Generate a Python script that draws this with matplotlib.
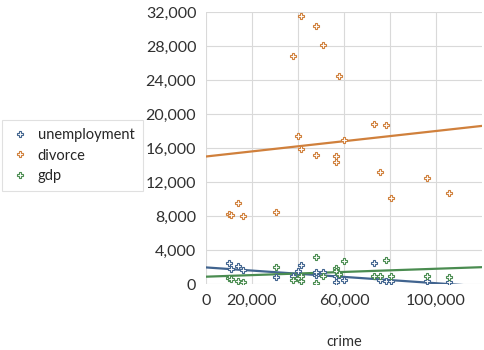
import numpy as np
import matplotlib
matplotlib.use("Agg")
import matplotlib.pyplot as plt
from matplotlib.ticker import FuncFormatter

plt.rcParams['font.family'] = ['Lato', 'DejaVu Sans']

# data (one entry per state)
crime = [10000, 10800, 13900, 16300, 30600, 37800, 40000, 41100, 41300, 47800, 48000,
         50900, 56500, 56700, 57900, 59800, 73200, 75800, 78300, 80500, 96100, 105600]
unemployment = [2430, 1720, 2150, 1650, 790, 1000, 1570, 2240, 390, 1060, 1400,
                1450, 200, 900, 1100, 470, 2430, 470, 390, 350, 390, 270]
divorce = [8200, 8100, 9500, 7950, 8500, 26800, 17400, 31500, 15900, 30350, 15200,
           28100, 15050, 14300, 24500, 16950, 18800, 13200, 18750, 10150, 12450, 10750]
gdp = [670, 600, 390, 270, 2040, 470, 700, 390, 900, 3210, 160,
       900, 1840, 1500, 1200, 2700, 1000, 940, 2820, 940, 940, 860]

# linear trend lines (value at crime = 0 and crime = 120,000)
trend_x = [0, 120000]
trend_unemployment = [1950, -280]
trend_divorce = [15000, 18600]
trend_gdp = [860, 1980]

c_blue = '#41648f'
c_orange = '#d0803c'
c_green = '#4a8c50'

fig = plt.figure(figsize=(4.85, 3.5), dpi=100)
ax = fig.add_axes([206/485, 1-284/350, (482-206)/485, (284-12)/350])

series = [("unemployment", unemployment, trend_unemployment, c_blue),
          ("divorce", divorce, trend_divorce, c_orange),
          ("gdp", gdp, trend_gdp, c_green)]

for name, vals, tr, col in series:
    ax.plot(crime, vals, linestyle='none', marker='P', markersize=4,
            markerfacecolor='white', markeredgecolor=col, markeredgewidth=0.8,
            label=name, zorder=3)
for name, vals, tr, col in series:
    ax.plot(trend_x, tr, color=col, linewidth=1.6, zorder=2)

ax.set_xlim(0, 120000)
ax.set_ylim(0, 32000)
ax.set_yticks(np.arange(0, 32001, 4000))
ax.yaxis.set_major_formatter(FuncFormatter(lambda v, p: f"{int(v):,}"))
ax.set_xticks([0, 20000, 40000, 60000, 80000, 100000])
ax.set_xticklabels(['0', '20,000', '', '60,000', '', '100,000'])

ax.grid(True, color='#d9d9d9', linewidth=0.8)
ax.set_axisbelow(True)
for s in ax.spines.values():
    s.set_visible(False)
ax.tick_params(length=0, labelsize=11.5, colors='#303030', pad=7)
ax.set_xlabel('crime', fontsize=10.5, color='#303030', labelpad=20)

leg = fig.legend(loc='upper left', bbox_to_anchor=(2/485, 1-120/350), borderaxespad=0,
                 fontsize=10.5, frameon=True, fancybox=False, edgecolor='#d9d9d9',
                 handletextpad=0.6, borderpad=0.55, labelspacing=0.45, handlelength=1.3)
leg.get_frame().set_linewidth(0.8)
for t in leg.get_texts():
    t.set_color('#262626')

fig.savefig('out.png', dpi=100)
